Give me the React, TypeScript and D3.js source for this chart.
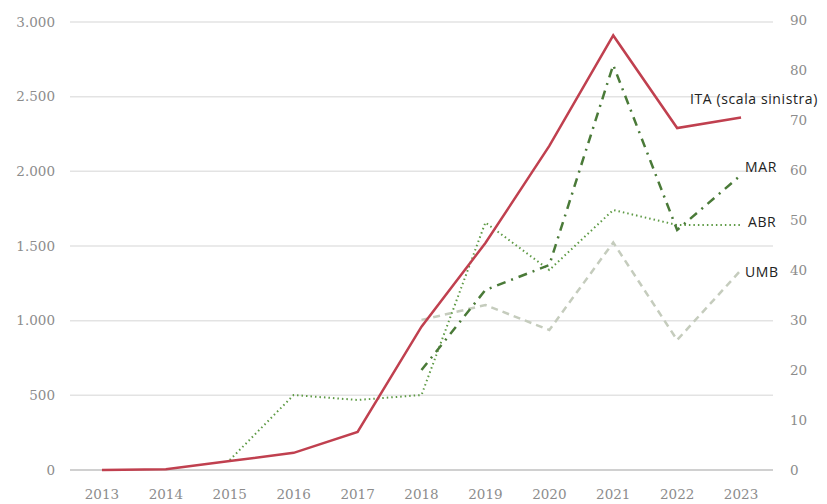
import React from "react";
import * as d3 from "d3";

const years = ["2013","2014","2015","2016","2017","2018","2019","2020","2021","2022","2023"];
const ita: (number | null)[] = [0, 5, 60, 115, 255, 960, 1520, 2170, 2910, 2290, 2360];
const mar: (number | null)[] = [null, null, null, null, null, 20, 36, 41, 81, 48, 59];
const abr: (number | null)[] = [null, null, 2, 15, 14, 15, 49.5, 40, 52, 49, 49];
const umb: (number | null)[] = [null, null, null, null, null, 30, 33, 28, 45.5, 26, 40];
const leftTicks = [0, 500, 1000, 1500, 2000, 2500, 3000];
const rightTicks = [0, 10, 20, 30, 40, 50, 60, 70, 80, 90];

const W = 827, H = 504;

export default function App() {
  const x = d3.scalePoint<string>().domain(years).range([70, 773]).padding(0.5);
  const yL = d3.scaleLinear().domain([0, 3000]).range([470, 22]);
  const yR = d3.scaleLinear().domain([0, 90]).range([470, 20]);
  const fmt = (v: number) => d3.format(",")(v).replace(/,/g, ".");

  const mk = (vals: (number | null)[], y: d3.ScaleLinear<number, number>) =>
    d3.line<number | null>()
      .defined((d) => d !== null)
      .x((_, i) => x(years[i])!)
      .y((d) => y(d as number))(vals) || "";

  const tickFont = "'DejaVu Serif', serif";
  const labFont = "'Open Sans', 'Liberation Sans', sans-serif";
  const tickFill = "#8c8c8c";

  return (
    <svg width={W} height={H} style={{ position: "absolute", left: 0, top: 0, background: "#fff" }}>
      {leftTicks.map((t) => (
        <g key={"l" + t}>
          <line x1={70} x2={773} y1={yL(t)} y2={yL(t)} stroke={t === 0 ? "#d0d0d0" : "#e3e3e3"} strokeWidth={t === 0 ? 2 : 1.5} />
          <text x={55} y={yL(t)} dy="0.35em" textAnchor="end" fontFamily={tickFont} fontSize={13.5} fill={tickFill}>{fmt(t)}</text>
        </g>
      ))}
      {rightTicks.map((t) => (
        <text key={"r" + t} x={790} y={yR(t)} dy="0.35em" textAnchor="start" fontFamily={tickFont} fontSize={13.5} fill={tickFill}>{t}</text>
      ))}
      {years.map((yv) => (
        <text key={yv} x={x(yv)!} y={499} textAnchor="middle" fontFamily={tickFont} fontSize={13.5} fill={tickFill}>{yv}</text>
      ))}
      <path d={mk(umb, yR)} fill="none" stroke="#c5ccbd" strokeWidth={2.5} strokeDasharray="7,5" />
      <path d={mk(abr, yR)} fill="none" stroke="#5e9a45" strokeWidth={2} strokeDasharray="1.5,3" />
      <path d={mk(mar, yR)} fill="none" stroke="#4a7a38" strokeWidth={2.5} strokeDasharray="9,6,2,6" />
      <path d={mk(ita, yL)} fill="none" stroke="#c0404f" strokeWidth={2.5} />
      <text x={690} y={104} fontFamily={labFont} fontSize={14} letterSpacing={0.6} fill="#222">ITA (scala sinistra)</text>
      <text x={745} y={172} fontFamily={labFont} fontSize={14} letterSpacing={0.6} fill="#222">MAR</text>
      <text x={748} y={227} fontFamily={labFont} fontSize={14} letterSpacing={0.6} fill="#222">ABR</text>
      <text x={745} y={277} fontFamily={labFont} fontSize={14} letterSpacing={0.6} fill="#222">UMB</text>
    </svg>
  );
}
